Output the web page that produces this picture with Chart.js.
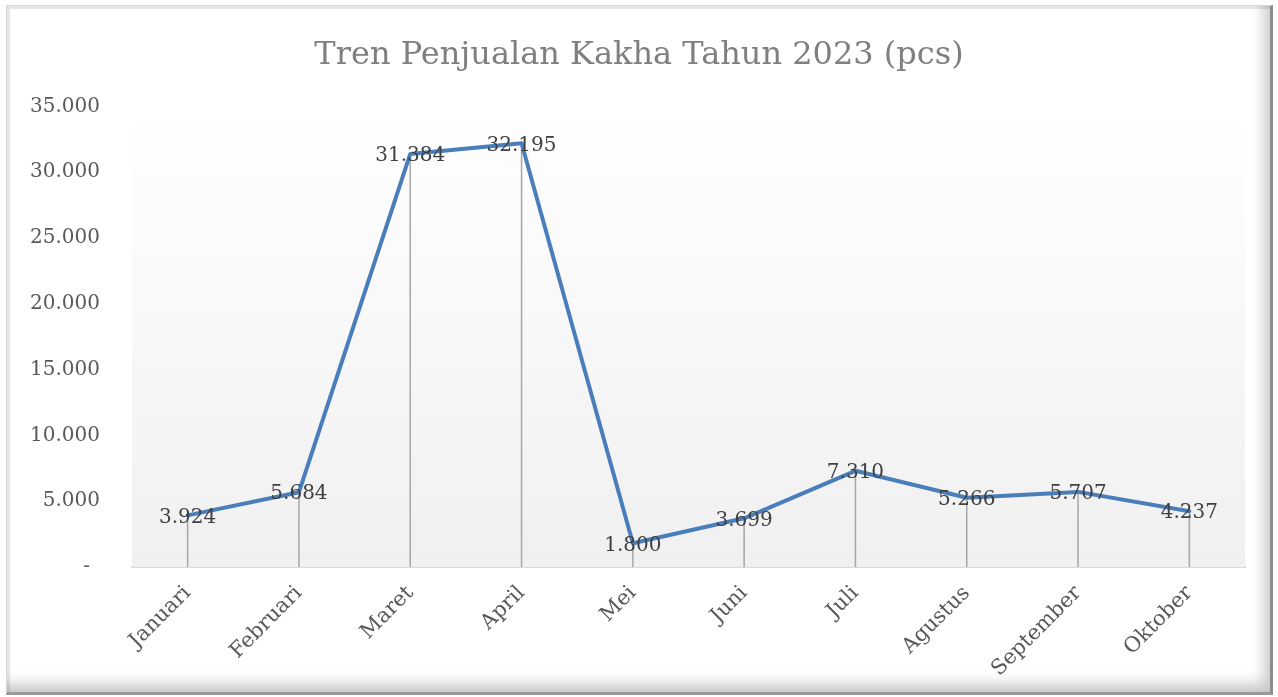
<!DOCTYPE html>
<html>
<head>
<meta charset="utf-8">
<script src="https://cdn.jsdelivr.net/npm/chart.js@4"></script>
<style>
  body { margin: 0; background: #ffffff; }
  #frame {
    position: absolute; left: 6px; top: 5px; width: 1263px; height: 686px;
    border: 1px solid #d6d6d6; border-right: 3px solid #8c8c8c; border-bottom: 3px solid #9a9a9a;
    box-shadow: inset -14px -16px 14px -8px rgba(0,0,0,0.22), inset 4px 4px 0 -1px #e6e6e6;
    background: #ffffff;
  }
  #myChart { position: absolute; left: 0; top: 0; }
</style>
</head>
<body>
<div id="frame"></div>
<canvas id="myChart" width="1278" height="697"></canvas>
<script>
const months = ['Januari', 'Februari', 'Maret', 'April', 'Mei', 'Juni', 'Juli', 'Agustus', 'September', 'Oktober']
const sales = [3924, 5684, 31384, 32195, 1800, 3699, 7310, 5266, 5707, 4237]
const yTicks = [0, 5000, 10000, 15000, 20000, 25000, 30000, 35000]

const serif = '"DejaVu Serif", "Liberation Serif", serif'

function formatNumber(v) {
    if (v === 0) return '-'
    return v.toString().replace(/\B(?=(\d{3})+(?!\d))/g, '.')
}

// plot area background + drop lines + value labels
const excelLook = {
    id: 'excelLook',
    afterLayout(chart) {
        // center the title on the whole canvas like the original
        if (chart.titleBlock) {
            chart.titleBlock.left = 0
            chart.titleBlock.right = chart.width
            chart.titleBlock.width = chart.width
        }
    },
    beforeDatasetsDraw(chart) {
        const ctx = chart.ctx
        const area = chart.chartArea
        const grad = ctx.createLinearGradient(0, area.top, 0, area.bottom)
        grad.addColorStop(0, '#ffffff')
        grad.addColorStop(1, '#f0f0f0')
        ctx.save()
        ctx.fillStyle = grad
        ctx.fillRect(area.left, area.top, area.right - area.left, area.bottom - area.top)

        const meta = chart.getDatasetMeta(0)
        ctx.strokeStyle = '#a6a6a6'
        ctx.lineWidth = 1.5
        meta.data.forEach(pt => {
            ctx.beginPath()
            ctx.moveTo(pt.x, pt.y)
            ctx.lineTo(pt.x, area.bottom)
            ctx.stroke()
        })
        ctx.restore()
    },
    afterDatasetsDraw(chart) {
        const ctx = chart.ctx
        const meta = chart.getDatasetMeta(0)
        ctx.save()
        ctx.font = '20px ' + serif
        ctx.fillStyle = '#404040'
        ctx.textAlign = 'center'
        ctx.textBaseline = 'middle'
        meta.data.forEach((pt, i) => {
            ctx.fillText(formatNumber(sales[i]), pt.x, pt.y + 2)
        })
        ctx.restore()
    }
}

new Chart(document.getElementById('myChart'), {
    type: 'line',
    data: {
        labels: months,
        datasets: [{
            data: sales,
            borderColor: '#4a7ebb',
            borderWidth: 4,
            pointRadius: 0,
            tension: 0,
            borderJoinStyle: 'round',
            borderCapStyle: 'round'
        }]
    },
    options: {
        responsive: false,
        animation: false,
        layout: { padding: { left: 0, right: 33, top: 0, bottom: 0 } },
        plugins: {
            legend: { display: false },
            tooltip: { enabled: false },
            title: {
                display: true,
                text: 'Tren Penjualan Kakha Tahun 2023 (pcs)',
                color: '#7f7f7f',
                font: { family: serif, size: 32, weight: 'normal' },
                padding: { top: 36, bottom: 32 }
            }
        },
        scales: {
            x: {
                offset: true,
                grid: { display: false },
                border: { display: true, color: '#d9d9d9', width: 2 },
                ticks: {
                    color: '#595959',
                    font: { family: serif, size: 21 },
                    minRotation: 45,
                    maxRotation: 45,
                    padding: 6
                },
                afterFit(scale) { scale.height = 130 }
            },
            y: {
                min: 0,
                max: 35000,
                grid: { display: false },
                border: { display: false },
                afterBuildTicks(scale) { scale.ticks = yTicks.map(v => ({ value: v })) },
                ticks: {
                    color: '#595959',
                    font: { family: serif, size: 20 },
                    padding: 24,
                    callback: v => v === 0 ? '-\u2002' : formatNumber(v)
                },
                afterFit(scale) { scale.width = 132 }
            }
        }
    },
    plugins: [excelLook]
})
</script>
</body>
</html>
